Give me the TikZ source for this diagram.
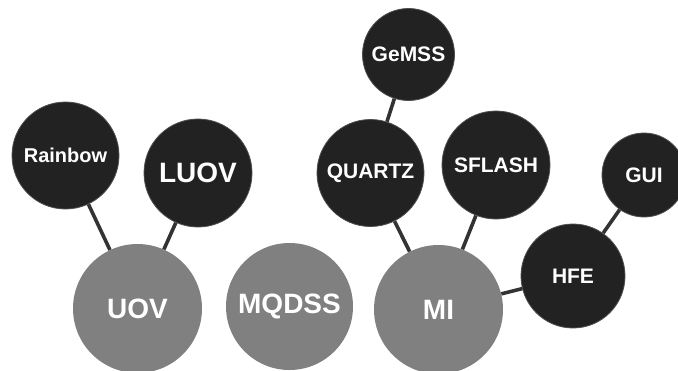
\documentclass[tikz,border=0pt]{standalone}
\usepackage{fontspec}
\setmainfont{Liberation Sans}
\usetikzlibrary{positioning}
\definecolor{dark}{HTML}{222222}
\definecolor{mid}{HTML}{808080}
\definecolor{link}{HTML}{333333}

\begin{document}
\begin{tikzpicture}[x=1pt,y=-1pt]
          \tikzstyle{every node}=[circle,inner sep=0pt,text=white,font=\bfseries]
          \tikzstyle{leaf}=[fill=dark,draw=dark!80!white,line width=0.8pt,font=\bfseries\fontsize{21}{21}\selectfont]
          \tikzstyle{base}=[fill=mid,font=\bfseries\fontsize{28}{28}\selectfont]
          \tikzstyle{link}=[draw=link,line width=3.6pt]
          \useasboundingbox (0,0) rectangle (678,370);
          \node[base,minimum size=129pt] (uov) at (137.5,308.5) {UOV};
          \node[base,minimum size=127pt] (mqdss) at (289.5,306.5) {MQDSS};
          \node[base,minimum size=129pt] (mi) at (438.5,309.5) {MI};
          \node[leaf,minimum size=107pt] (rainbow) at (65.5,155.5) {\fontsize{20}{20}\selectfont Rainbow};
          \node[leaf,minimum size=108pt] (luov) at (198,173) {\fontsize{28}{28}\selectfont LUOV};
          \node[leaf,minimum size=92pt] (gemss) at (408.5,54.5) {GeMSS};
          \node[leaf,minimum size=107pt] (quartz) at (370.5,173) {QUARTZ};
          \node[leaf,minimum size=108pt] (sflash) at (496,165) {SFLASH};
          \node[leaf,minimum size=104pt] (hfe) at (573,276) {HFE};
          \node[leaf,minimum size=84pt] (gui) at (644,175) {GUI};
          \draw[link] (rainbow) -- (uov);
          \draw[link] (luov) -- (uov);
          \draw[link] (gemss) -- (quartz);
          \draw[link] (quartz) -- (mi);
          \draw[link] (sflash) -- (mi);
          \draw[link] (mi) -- (hfe);
          \draw[link] (hfe) -- (gui);
      \end{tikzpicture}
\end{document}
